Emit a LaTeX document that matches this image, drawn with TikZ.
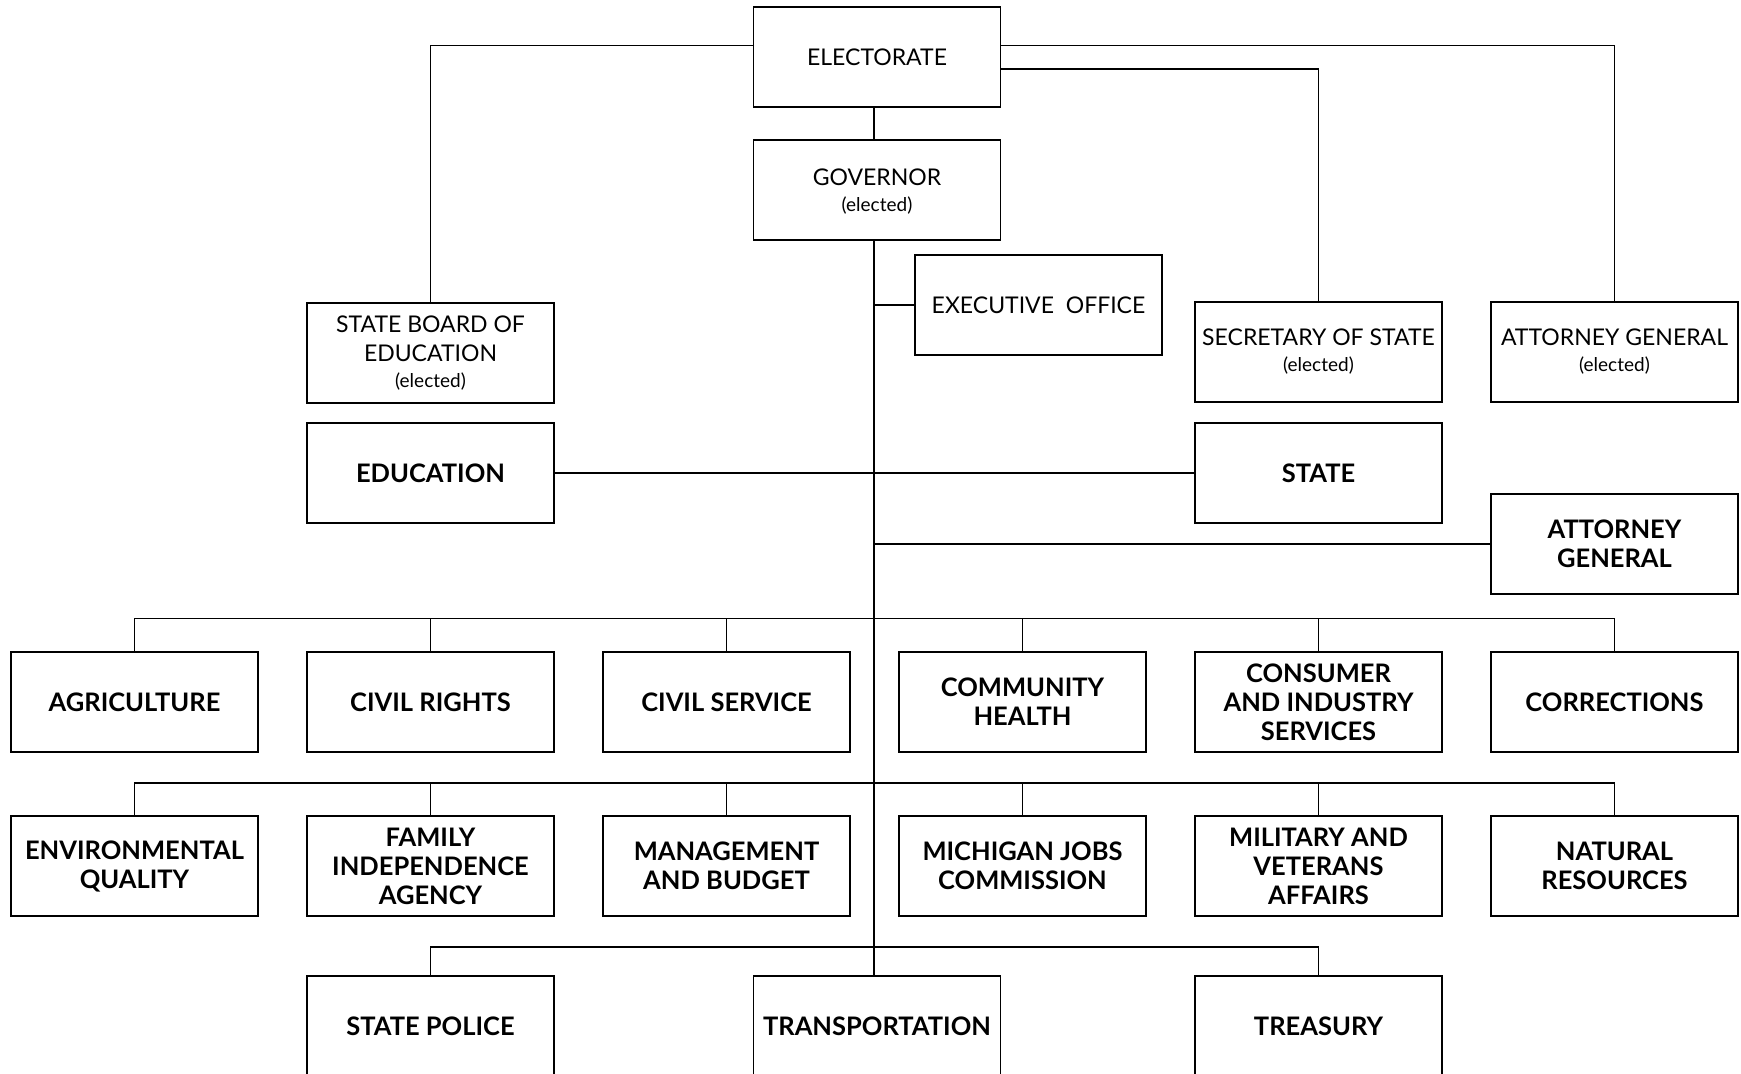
\documentclass[tikz,border=0pt]{standalone}
\usepackage{fontspec}
\setmainfont{Lato}
\begin{document}
\begin{tikzpicture}[x=1pt,y=-1pt,line width=1.1pt,
  box/.style={draw, minimum width=247pt, minimum height=100pt, inner sep=0pt, align=center,
    font=\fontsize{23}{29}\selectfont},
  dept/.style={box, font=\fontsize{25.5}{29}\selectfont\bfseries}]
\useasboundingbox (0,0) rectangle (1741,1074);
\clip (0,0) rectangle (1741,1074);
\newcommand{\elc}{{\fontsize{19}{26}\selectfont (elected)}}
% top
\node[box] (elect) at (877,57) {ELECTORATE};
\node[box, text depth=-4pt] (gov) at (877,190) {GOVERNOR\\[-3pt]\elc};
\node[box] (exec) at (1038.5,305) {EXECUTIVE\ \ OFFICE};
\node[box] (sbe) at (430.5,353) {STATE BOARD OF\\EDUCATION\\[-3pt]\elc};
\node[box] (sos) at (1318.5,352) {SECRETARY OF STATE\\[-3pt]\elc};
\node[box] (agE) at (1614.5,352) {ATTORNEY GENERAL\\[-3pt]\elc};
\node[dept] (edu) at (430.5,473) {EDUCATION};
\node[dept] (state) at (1318.5,473) {STATE};
\node[dept] (ag) at (1614.5,544) {ATTORNEY\\GENERAL};
% row 1
\node[dept] (agr) at (134.5,702) {AGRICULTURE};
\node[dept] (civr) at (430.5,702) {CIVIL RIGHTS};
\node[dept] (civs) at (726.5,702) {CIVIL\ SERVICE};
\node[dept] (comh) at (1022.5,702) {COMMUNITY\\HEALTH};
\node[dept] (cons) at (1318.5,702) {CONSUMER\\AND INDUSTRY\\SERVICES};
\node[dept] (corr) at (1614.5,702) {CORRECTIONS};
% row 2
\node[dept] (env) at (134.5,866) {ENVIRONMENTAL\\QUALITY};
\node[dept] (fam) at (430.5,866) {FAMILY\\INDEPENDENCE\\AGENCY};
\node[dept] (mgmt) at (726.5,866) {MANAGEMENT\\AND BUDGET};
\node[dept] (mjc) at (1022.5,866) {MICHIGAN JOBS\\COMMISSION};
\node[dept] (mil) at (1318.5,866) {MILITARY AND\\VETERANS\\AFFAIRS};
\node[dept] (nat) at (1614.5,866) {NATURAL\\RESOURCES};
% row 3
\node[dept] (sp) at (430.5,1026) {STATE POLICE};
\node[dept] (trans) at (877,1026) {TRANSPORTATION};
\node[dept] (tre) at (1318.5,1026) {TREASURY};
% helper coordinates
\coordinate (tx) at (874,0);
\coordinate (busA) at (0,618.5);
\coordinate (busB) at (0,783);
\coordinate (busC) at (0,947);
\coordinate (eL) at (754,45.5);
\coordinate (eR1) at (1000,45.5);
\coordinate (eR2) at (1000,69);
% electorate links
\draw (eL) -| (sbe.north);
\draw (eR1) -| (agE.north);
\draw (eR2) -| (sos.north);
\draw (elect.south -| tx) -- (gov.north -| tx);
% trunk
\draw (gov.south -| tx) -- (trans.north -| tx);
\draw (exec.west) -- (exec.west -| tx);
\draw (edu.east) -- (state.west);
\draw (ag.west) -- (ag.west -| tx);
% bus 1
\draw (agr.north) -- (agr.north |- busA) -- (corr.north |- busA) -- (corr.north);
\foreach \n in {civr,civs,comh,cons} \draw (\n.north) -- (\n.north |- busA);
% bus 2
\draw (env.north) -- (env.north |- busB) -- (nat.north |- busB) -- (nat.north);
\foreach \n in {fam,mgmt,mjc,mil} \draw (\n.north) -- (\n.north |- busB);
% bus 3
\draw (sp.north) -- (sp.north |- busC) -- (tre.north |- busC) -- (tre.north);
\end{tikzpicture}
\end{document}
